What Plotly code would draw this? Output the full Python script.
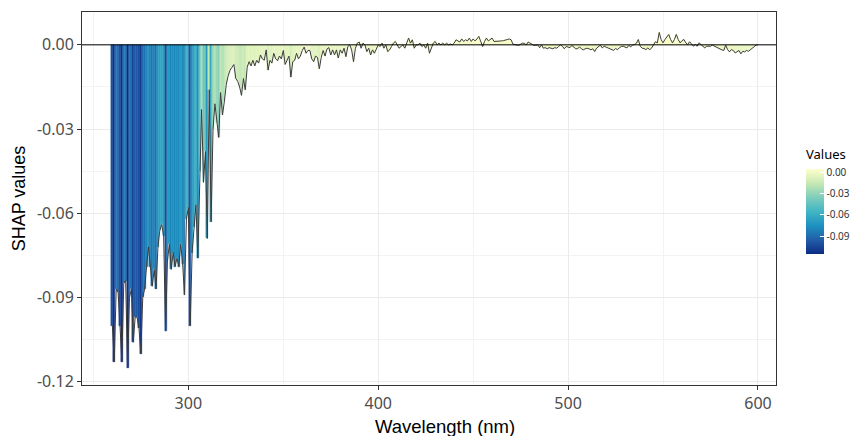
import plotly.graph_objects as go

# Wavelength grid (nm), 1 nm steps
wavelength = list(range(260, 601))

# SHAP values, one per nm
shap_260_321 = [
    -0.100, -0.113, -0.087, -0.088, -0.100, -0.113, -0.085, -0.084, -0.115, -0.090,
    -0.087, -0.106, -0.097, -0.097, -0.101, -0.110, -0.090, -0.087, -0.079, -0.072,
    -0.079, -0.086, -0.080, -0.087, -0.072, -0.066, -0.064, -0.068, -0.102, -0.077,
    -0.071, -0.080, -0.074, -0.079, -0.076, -0.079, -0.071, -0.078, -0.089, -0.062,
    -0.058, -0.100, -0.074, -0.065, -0.057, -0.076, -0.045, -0.023, -0.049, -0.038,
    -0.069, -0.016, -0.063, -0.030, -0.021, -0.028, -0.033, -0.017, -0.025, -0.020,
    -0.014, -0.011,
]
shap_322_374 = [
    -0.0090, -0.0080, -0.0070, -0.0120, -0.0130, -0.0150, -0.0180, -0.0120, -0.0160, -0.0080,
    -0.0060, -0.0075, -0.0055, -0.0075, -0.0055, -0.0065, -0.0036, -0.0050, -0.0055, -0.0018,
    -0.0090, -0.0055, -0.0065, -0.0030, -0.0050, -0.0056, -0.0040, -0.0050, -0.0020, -0.0070,
    -0.0055, -0.0040, -0.0115, -0.0060, -0.0055, -0.0030, -0.0050, -0.0040, -0.0020, -0.0008,
    -0.0030, -0.0020, -0.0020, -0.0050, -0.0060, -0.0040, -0.0045, -0.0085, -0.0045, -0.0020,
    -0.0040, -0.0015, -0.0010,
]
shap_375_440 = [
    -0.0036, -0.0018, -0.0036, -0.0018, -0.0047, -0.0018, -0.0030, -0.0012, -0.0042, -0.0006,
    0.0000, -0.0018, -0.0060, -0.0012, 0.0006, 0.0010, -0.0012, 0.0006, 0.0000, -0.0024,
    -0.0012, -0.0036, -0.0018, -0.0030, -0.0012, 0.0000, -0.0006, 0.0006, -0.0012, 0.0000,
    -0.0024, -0.0018, -0.0006, 0.0006, 0.0012, 0.0000, -0.0012, -0.0006, 0.0000, -0.0012,
    0.0006, 0.0024, 0.0006, 0.0018, -0.0012, 0.0000, 0.0000, 0.0006, -0.0006, 0.0000,
    -0.0012, 0.0006, -0.0030, -0.0012, 0.0006, 0.0012, 0.0000, 0.0006, 0.0000, 0.0006,
    0.0000, 0.0006, 0.0000, 0.0003, 0.0000, 0.0006,
]
shap_441_516 = [
    0.0018, 0.0014, 0.0010, 0.0021, 0.0012, 0.0018, 0.0014, 0.0024, 0.0012, 0.0021,
    0.0014, 0.0021, 0.0030, 0.0012, -0.0006, 0.0012, 0.0024, 0.0014, 0.0018, 0.0024,
    0.0012, 0.0012, 0.0014, 0.0012, 0.0014, 0.0015, 0.0018, 0.0019, 0.0021, 0.0018,
    0.0002, 0.0000, 0.0000, -0.0002, 0.0002, 0.0006, 0.0005, 0.0000, 0.0010, 0.0006,
    0.0000, -0.0002, -0.0002, 0.0000, -0.0010, 0.0000, -0.0012, -0.0010, -0.0014, -0.0010,
    -0.0012, -0.0014, -0.0010, -0.0012, -0.0006, 0.0000, -0.0005, -0.0014, -0.0006, -0.0007,
    -0.0010, -0.0002, -0.0010, -0.0014, -0.0014, -0.0007, -0.0014, -0.0018, -0.0014, -0.0012,
    -0.0014, -0.0018, -0.0014, -0.0024, -0.0012, -0.0007,
]
shap_517_600 = [
    -0.0001, -0.0011, -0.0005, -0.0008, -0.0011, -0.0013, -0.0018, -0.0020, -0.0013, -0.0017,
    -0.0011, -0.0006, -0.0005, -0.0008, -0.0011, -0.0002, -0.0007, -0.0001, 0.0001, 0.0006,
    0.0019, -0.0005, -0.0012, -0.0013, -0.0017, -0.0011, -0.0018, -0.0011, 0.0001, 0.0011,
    0.0007, 0.0044, 0.0019, 0.0007, 0.0019, 0.0027, 0.0037, 0.0019, 0.0007, 0.0019,
    0.0037, 0.0019, 0.0007, 0.0015, 0.0019, 0.0007, 0.0001, 0.0011, 0.0004, -0.0005,
    0.0001, -0.0005, 0.0007, 0.0001, -0.0008, -0.0011, -0.0005, -0.0005, -0.0005, -0.0001,
    -0.0005, -0.0008, -0.0013, -0.0017, -0.0018, -0.0020, -0.0001, -0.0017, -0.0025, -0.0017,
    -0.0020, -0.0029, -0.0023, -0.0020, -0.0032, -0.0023, -0.0025, -0.0020, -0.0023, -0.0017,
    -0.0011, -0.0005, -0.0001, 0.0000,
]
shap_values = shap_260_321 + shap_322_374 + shap_375_440 + shap_441_516 + shap_517_600

x_ticks = [300, 400, 500, 600]
x_minor = [250, 350, 450, 550]
y_ticks = [0.0, -0.03, -0.06, -0.09, -0.12]
y_ticklabels = ["0.00", "-0.03", "-0.06", "-0.09", "-0.12"]
y_minor = [0.015, -0.015, -0.045, -0.075, -0.105]
cb_ticks = [0.0, -0.03, -0.06, -0.09]
cb_ticklabels = ["0.00", "-0.03", "-0.06", "-0.09"]

# ColorBrewer YlGnBu (7 classes), dark blue at the low end
ylgnbu = [
    [0.0, "#0c2c84"], [1 / 6, "#225ea8"], [2 / 6, "#1d91c0"], [3 / 6, "#41b6c4"],
    [4 / 6, "#7fcdbb"], [5 / 6, "#c7e9b4"], [1.0, "#ffffcc"],
]
vmin, vmax = min(shap_values), max(shap_values)

W, H = 854, 436
L, R, T, B = 82, 78, 12, 51
plot_w, plot_h = W - L - R, H - T - B

fig = go.Figure()
fig.add_trace(go.Bar(
    x=wavelength, y=shap_values, width=1,
    marker=dict(
        color=shap_values, colorscale=ylgnbu, cmin=vmin, cmax=vmax,
        line=dict(width=0.4, color=shap_values, colorscale=ylgnbu, cmin=vmin, cmax=vmax),
        colorbar=dict(
            title=dict(text="Values", side="top", font=dict(family="Noto Sans", size=13, color="#000000")),
            thickness=18, thicknessmode="pixels",
            len=108, lenmode="pixels",
            x=(806 - L) / plot_w, xanchor="left",
            y=1 - (146 - T) / plot_h, yanchor="top",
            xpad=0, ypad=0,
            outlinewidth=0,
            tickvals=cb_ticks, ticktext=cb_ticklabels,
            ticks="inside", ticklen=4, tickcolor="white",
            tickfont=dict(family="Noto Sans", size=10, color="#333333"),
        ),
    ),
    showlegend=False, hoverinfo="skip",
))
fig.add_trace(go.Scatter(
    x=wavelength, y=shap_values, mode="lines",
    line=dict(color="#3c3c3c", width=1), showlegend=False, hoverinfo="skip",
))
fig.add_shape(type="line", xref="paper", x0=0, x1=1, yref="y", y0=0, y1=0,
              line=dict(color="#000000", width=1), layer="above")

# x-axis title, placed where the reference shows it
fig.add_annotation(
    text="Wavelength (nm)", xref="paper", yref="paper",
    x=(445 - L) / plot_w, y=1 - (426 - T) / plot_h,
    xanchor="center", yanchor="middle", showarrow=False,
    font=dict(family="Liberation Sans", size=18.5, color="#000000"),
)

axis_common = dict(
    showline=True, mirror=True, linecolor="#333333", linewidth=1,
    ticks="outside", ticklen=4, tickcolor="#333333",
    tickfont=dict(family="Noto Sans", size=16, color="#4d4d4d"),
    showgrid=True, gridcolor="#ebebeb", gridwidth=1, zeroline=False,
    automargin=False,
)
fig.update_layout(
    width=W, height=H,
    margin=dict(l=L, r=R, t=T, b=B, autoexpand=False),
    paper_bgcolor="white", plot_bgcolor="white",
    bargap=0,
    xaxis=dict(
        range=[244, 609.5], tickvals=x_ticks,
        minor=dict(tickvals=x_minor, showgrid=True, gridcolor="#f3f3f3", gridwidth=0.6, ticks=""),
        **axis_common,
    ),
    yaxis=dict(
        range=[-0.1212, 0.0117], tickvals=y_ticks, ticktext=y_ticklabels,
        minor=dict(tickvals=y_minor, showgrid=True, gridcolor="#f3f3f3", gridwidth=0.6, ticks=""),
        title=dict(text="SHAP values", font=dict(family="Liberation Sans", size=18, color="#000000"), standoff=6),
        **axis_common,
    ),
)
fig.write_html("out.html", config={"displayModeBar": False},
               post_script="document.body.style.margin='0';")
